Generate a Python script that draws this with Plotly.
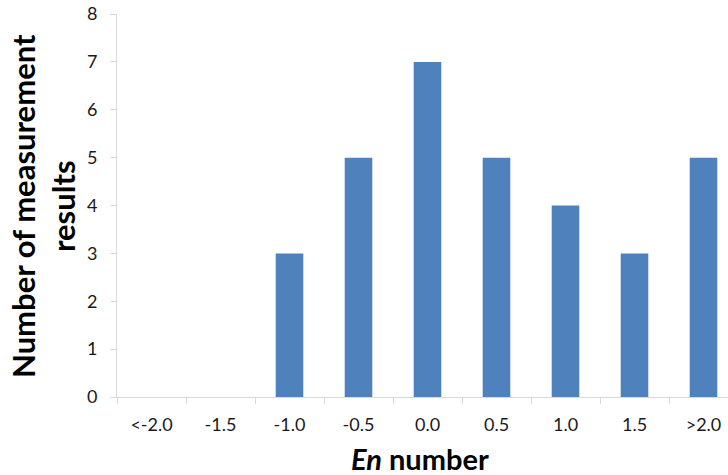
import plotly.graph_objects as go

categories = ["<-2.0", "-1.5", "-1.0", "-0.5", "0.0", "0.5", "1.0", "1.5", ">2.0"]
counts = [0, 0, 3, 5, 7, 5, 4, 3, 5]
y_ticks = [0, 1, 2, 3, 4, 5, 6, 7, 8]

FONT = "Lato"
AXIS = "#d9d9d9"
fig = go.Figure()
fig.add_trace(go.Bar(x=categories, y=counts, marker=dict(color="#4f81bd", line=dict(width=0)), width=0.4))

fig.update_layout(
    width=728, height=475,
    margin=dict(l=117, r=0, t=14, b=78),
    paper_bgcolor="white", plot_bgcolor="white",
    showlegend=False,
    font=dict(family=FONT, color="#1a1a1a", size=18),
)
fig.update_xaxes(
    type="category", range=[-0.5, 8.355],
    showgrid=False, showline=True, linecolor=AXIS, linewidth=1,
    ticks="outside", tickson="boundaries", ticklen=6, tickcolor=AXIS,
    tickfont=dict(family=FONT, size=18, color="#1a1a1a"),
    ticklabelstandoff=11,
)
fig.update_yaxes(
    range=[0, 8], tickvals=y_ticks, showgrid=False, zeroline=False,
    showline=True, linecolor=AXIS, linewidth=1,
    ticks="outside", ticklen=6, tickcolor=AXIS,
    tickfont=dict(family=FONT, size=18, color="#1a1a1a"),
    ticklabeloverflow="allow", ticklabelstandoff=9,
)
fig.add_annotation(text="<b><i>En</i> number</b>", xref="paper", yref="paper",
                   x=0.496, y=-0.16, xanchor="center", yanchor="middle", showarrow=False,
                   font=dict(family=FONT, size=29, color="black"))
fig.add_annotation(text="<b>Number of measurement<br>results</b>", xref="paper", yref="paper",
                   x=-0.122, y=0.5, xanchor="center", yanchor="middle", textangle=-90, showarrow=False,
                   font=dict(family=FONT, size=31, color="black"))
fig.write_html("out.html", config={"displayModeBar": False},
               post_script="document.body.style.margin='0';document.body.style.overflow='hidden';")
